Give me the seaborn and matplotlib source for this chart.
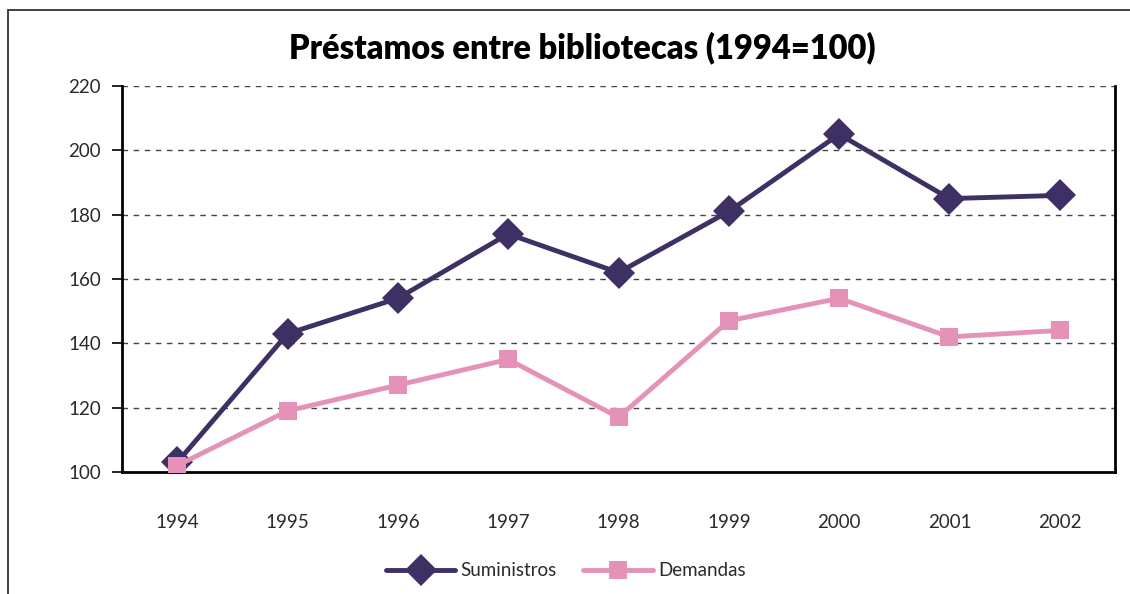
import matplotlib
matplotlib.use("Agg")
import matplotlib.pyplot as plt
import seaborn as sns
import pandas as pd
import numpy as np
from matplotlib.patches import Rectangle

years = ["1994", "1995", "1996", "1997", "1998", "1999", "2000", "2001", "2002"]
suministros = [103, 143, 154, 174, 162, 181, 205, 185, 186]
demandas = [102, 119, 127, 135, 117, 147, 154, 142, 144]
series_names = ["Suministros", "Demandas"]
yticks = [100, 120, 140, 160, 180, 200, 220]

sns.set_theme(style="white")
plt.rcParams["font.family"] = ["Lato", "DejaVu Sans"]

df = pd.DataFrame({
    "pos": list(range(len(years))) * 2,
    "valor": suministros + demandas,
    "serie": [series_names[0]] * len(years) + [series_names[1]] * len(years),
})

fig = plt.figure(figsize=(11.3, 5.94), dpi=100)
ax = fig.add_axes([0.108, 0.2054, 0.8787, 0.6498])

palette = {"Suministros": "#3E3064", "Demandas": "#E592B8"}
markers = {"Suministros": "D", "Demandas": "s"}
sizes = {"Suministros": 16.5, "Demandas": 12.5}

for name in series_names:
    sub = df[df["serie"] == name]
    sns.lineplot(data=sub, x="pos", y="valor", ax=ax, color=palette[name],
                 linewidth=3.5, marker=markers[name], markersize=sizes[name],
                 markeredgewidth=0, label=name, zorder=3)

ax.set_xlim(-0.5, len(years) - 0.5)
ax.set_ylim(100, 220)
ax.set_yticks(yticks)
ax.set_yticklabels([str(v) for v in yticks], fontsize=13.5, color="#2a2a2a")
ax.set_xticks(range(len(years)))
ax.set_xticklabels(years, fontsize=13.5, color="#2a2a2a")
ax.set_xticks(np.arange(-0.5, len(years), 1.0), minor=True)
ax.tick_params(axis="x", which="major", length=0, pad=30)
ax.tick_params(axis="x", which="minor", length=7, width=1.2, color="black", direction="out")
ax.tick_params(axis="y", which="major", length=7, width=1.2, color="black", direction="out", pad=8, left=True)
ax.set_xlabel("")
ax.set_ylabel("")

for v in yticks[1:]:
    ax.axhline(v, color="#444444", linestyle=(0, (4, 4)), linewidth=1.0, zorder=1)

for side in ["left", "bottom", "right"]:
    ax.spines[side].set_visible(True)
    ax.spines[side].set_color("black")
    ax.spines[side].set_linewidth(2.0)
ax.spines["top"].set_visible(False)

leg = ax.legend(loc="upper center", bbox_to_anchor=(0.447, -0.19), ncol=2, frameon=False,
                prop={"size": 13.5}, handlelength=3.7, columnspacing=1.4,
                handletextpad=0.3)
for t in leg.get_texts():
    t.set_color("#2a2a2a")

fig.text(0.515, 0.92, "Préstamos entre bibliotecas (1994=100)", ha="center", va="center",
         fontsize=23.5, fontweight="heavy", color="black")

fig.patches.append(Rectangle((8 / 1130, -0.1), 1.2, 1 - 10 / 594 + 0.1, transform=fig.transFigure,
                             fill=False, edgecolor="#333333", linewidth=1.3))

fig.savefig("out.png", dpi=100)
